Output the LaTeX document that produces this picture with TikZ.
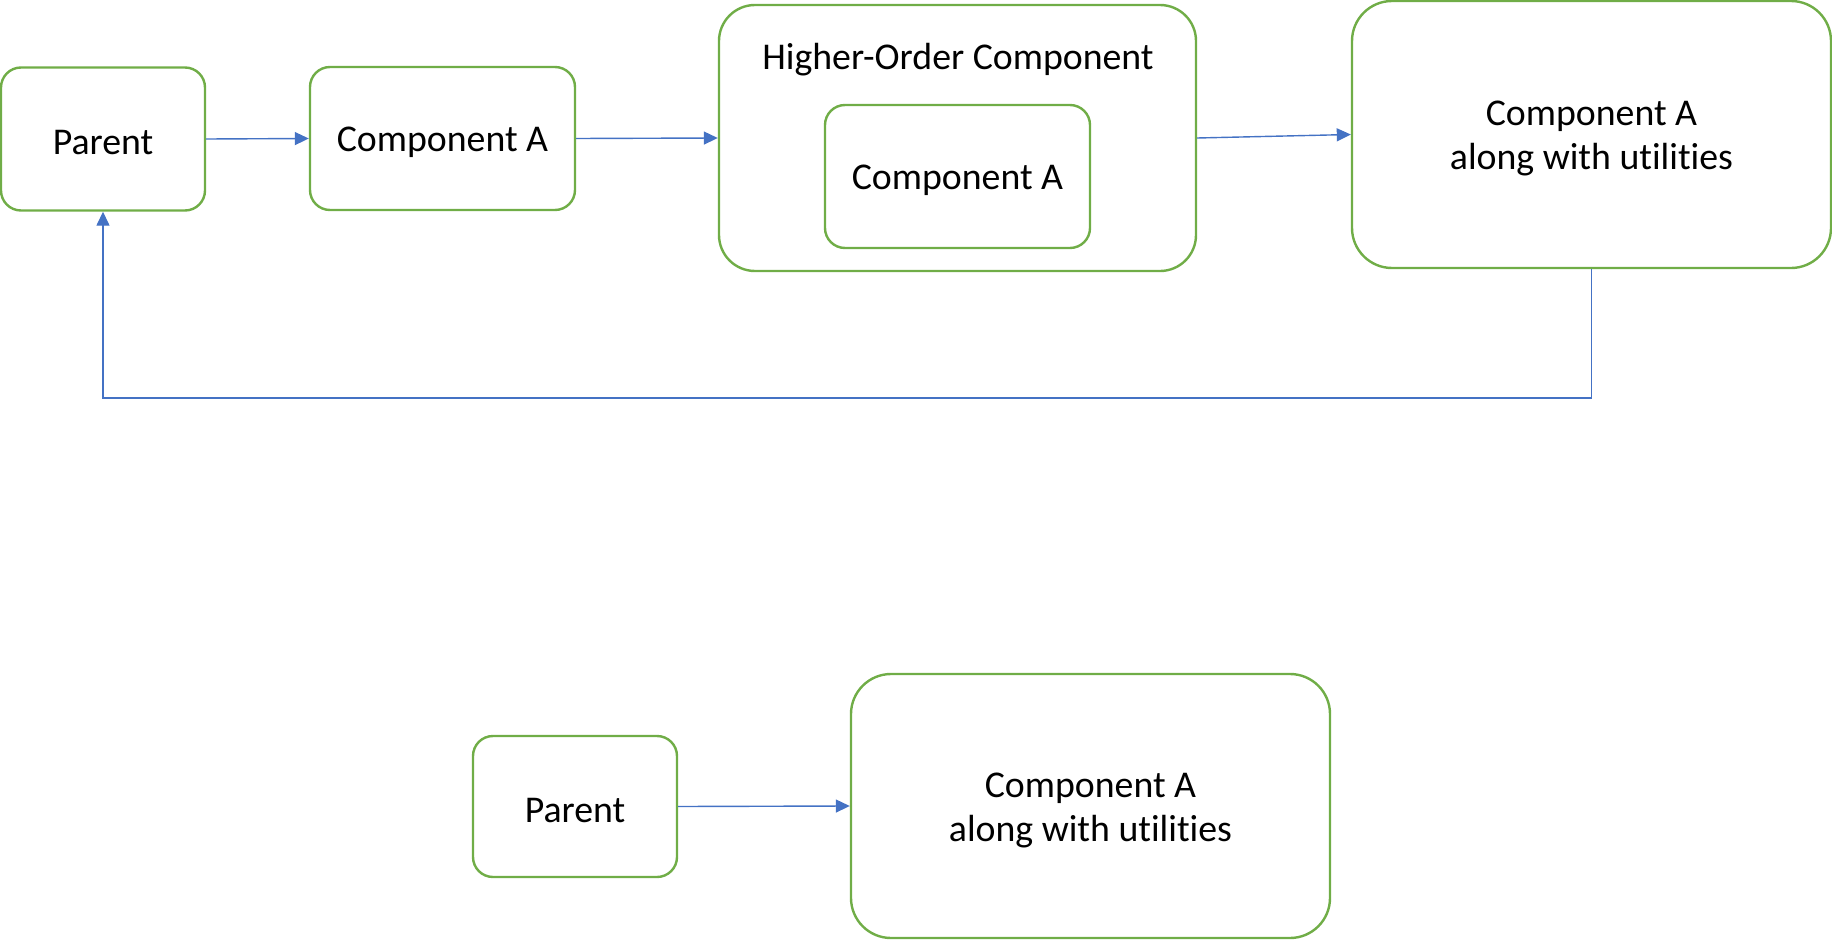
\documentclass[tikz,border=0pt]{standalone}
\usepackage{fontspec}
\setmainfont{Carlito}[Ligatures={NoCommon}]
\usetikzlibrary{arrows.meta}
\definecolor{boxgreen}{HTML}{70AD47}
\definecolor{lineblue}{HTML}{4472C4}
\begin{document}
\begin{tikzpicture}[x=1pt,y=-1pt,
  txt/.style={font=\fontsize{37.8}{44}\selectfont,align=center,inner sep=0pt,yshift=-4pt},
  box/.style={draw=boxgreen,line width=2.4pt,rectangle,inner sep=0pt},
  conn/.style={draw=lineblue,line width=1.4pt,-{Triangle[length=14pt,width=13pt]}}]
\useasboundingbox (0,0) rectangle (1832,942);
% top row
\node[box,rounded corners=20pt,minimum width=204pt,minimum height=143pt,
  label={[txt]center:Parent}] (parent) at (103,139) {};
\node[box,rounded corners=20pt,minimum width=265pt,minimum height=143pt,
  label={[txt]center:Component A}] (compa) at (442.5,138.5) {};
\node[box,rounded corners=36pt,minimum width=477pt,minimum height=266pt] (hoc) at (957.5,138) {};
\node[txt,yshift=1pt] (hoclabel) at (958,57) {Higher-Order Component};
\node[box,rounded corners=20pt,minimum width=265pt,minimum height=143pt,
  label={[txt]center:Component A}] (inner) at (957.5,176.5) {};
\node[box,rounded corners=40pt,minimum width=479pt,minimum height=267pt,
  label={[txt]center:{Component A\\along with utilities}}] (big) at (1591.5,134.5) {};
\draw[conn] (parent.east) -- (compa.west);
\draw[conn] (compa.east) -- (hoc.west);
\draw[conn] (hoc.east) -- (big.west);
\coordinate (loopr) at (1591.5,398);
\coordinate (loopl) at (103,398);
\draw[conn] (big.south) -- (loopr) -- (loopl) -- (parent.south);
% bottom row
\node[box,rounded corners=20pt,minimum width=204pt,minimum height=141pt,
  label={[txt]center:Parent}] (parent2) at (575,806.5) {};
\node[box,rounded corners=40pt,minimum width=479pt,minimum height=264pt,
  label={[txt]center:{Component A\\along with utilities}}] (big2) at (1090.5,806) {};
\draw[conn] (parent2.east) -- (big2.west);
\end{tikzpicture}
\end{document}
